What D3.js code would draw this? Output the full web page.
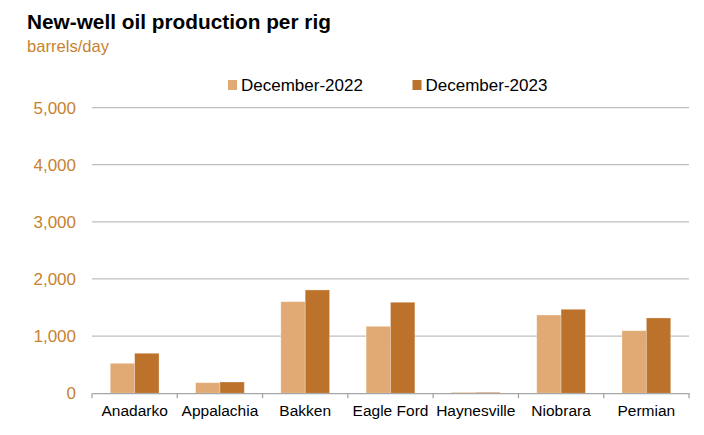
<!DOCTYPE html>
<html><head><meta charset="utf-8">
<script src="https://cdn.jsdelivr.net/npm/d3@7"></script>
<style>body{margin:0;background:#fff}svg{display:block;font-family:"Liberation Sans",Arial,sans-serif}</style>
</head><body>
<script>
const categories = ["Anadarko","Appalachia","Bakken","Eagle Ford","Haynesville","Niobrara","Permian"];
const seriesNames = ["December-2022","December-2023"];
const dec2022 = [523, 184, 1602, 1171, 15, 1369, 1094];
const dec2023 = [699, 196, 1807, 1592, 15, 1469, 1317];
const yTicks = [0, 1000, 2000, 3000, 4000, 5000];
const colors = ["#E1AA74", "#BC722A"];

const W = 704, H = 435;
const svg = d3.select("body").append("svg").attr("width", W).attr("height", H);
const m = {l: 92, r: 689, t: 107.6, b: 393.2};

const x = d3.scaleBand().domain(categories).range([m.l, m.r]).paddingInner(0).paddingOuter(0);
const xs = d3.scaleBand().domain(seriesNames).range([0, x.bandwidth()]).paddingInner(0).paddingOuter(0.75);
const y = d3.scaleLinear().domain([0, 5000]).range([m.b, m.t]);

// title
svg.append("text").attr("x", 27).attr("y", 29).attr("font-size", 20.8).attr("font-weight", "bold").attr("fill", "#000").text("New-well oil production per rig");
svg.append("text").attr("x", 27).attr("y", 52).attr("font-size", 16.6).attr("fill", "#C8822F").text("barrels/day");

// gridlines
svg.append("g").selectAll("line").data(yTicks.filter(d => d > 0)).join("line")
  .attr("x1", m.l).attr("x2", m.r).attr("y1", d => y(d)).attr("y2", d => y(d))
  .attr("stroke", "#BFBFBF").attr("stroke-width", 1.2);

// y labels
const yAxis = d3.axisLeft(y).tickValues(yTicks).tickFormat(d3.format(",")).tickSize(0).tickPadding(16);
const yg = svg.append("g").attr("transform", `translate(${m.l},0)`).call(yAxis);
yg.select(".domain").remove();
yg.selectAll("text").attr("font-size", 17).attr("fill", "#C8822F").attr("font-family", "Liberation Sans,Arial,sans-serif");

// bars
const data = categories.map((c, i) => ({c, vals: [dec2022[i], dec2023[i]]}));
const grp = svg.append("g").selectAll("g").data(data).join("g").attr("transform", d => `translate(${x(d.c)},0)`);
grp.selectAll("rect").data(d => d.vals.map((v, j) => ({s: seriesNames[j], v, j}))).join("rect")
  .attr("x", d => xs(d.s)).attr("width", xs.bandwidth())
  .attr("y", d => y(d.v)).attr("height", d => y(0) - y(d.v))
  .attr("fill", d => colors[d.j]).attr("stroke", "#fff").attr("stroke-opacity", 0.35).attr("stroke-width", 0.8);

// x axis
const xAxis = d3.axisBottom(x).tickSize(0).tickPadding(12);
const xg = svg.append("g").attr("transform", `translate(0,${m.b})`).call(xAxis);
xg.select(".domain").attr("stroke", "#A6A6A6").attr("stroke-width", 1.3);
xg.selectAll("text").attr("font-size", 15.5).attr("fill", "#000").attr("font-family", "Liberation Sans,Arial,sans-serif");
const bounds = categories.map(c => x(c)).concat([x.range()[1]]);
svg.append("g").selectAll("line").data(bounds).join("line")
  .attr("x1", d => d).attr("x2", d => d).attr("y1", m.b).attr("y2", m.b + 5)
  .attr("stroke", "#A6A6A6").attr("stroke-width", 1.3);

// legend
const legX = [228, 412.5];
const lg = svg.append("g").selectAll("g").data(seriesNames).join("g").attr("transform", (d, i) => `translate(${legX[i]},0)`);
lg.append("rect").attr("x", 0).attr("y", 80).attr("width", 9).attr("height", 10).attr("fill", (d, i) => colors[i]);
lg.append("text").attr("x", 13).attr("y", 91).attr("font-size", 17).attr("fill", "#000").text(d => d);
</script>
</body></html>
